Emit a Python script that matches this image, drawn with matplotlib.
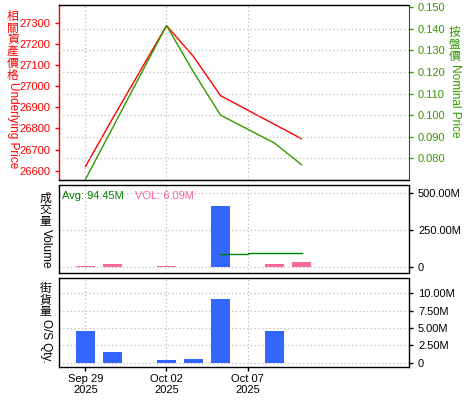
import matplotlib
matplotlib.use('Agg')
import matplotlib.pyplot as plt

plt.rcParams['font.family'] = ['Liberation Sans', 'Noto Sans CJK TC']

# trading-day slots (weekdays), ticks every 3rd slot
slot_idx = [0, 1, 2, 3, 4, 5, 6, 7, 8]
tick_idx = [0, 3, 6]
tick_labels = ['Sep 29\n2025', 'Oct 02\n2025', 'Oct 07\n2025']

# price panel
price_idx = [0, 1, 3, 4, 5, 7, 8]
underlying = [26620, 26846, 27286, 27140, 26955, 26819, 26751]
nominal = [0.0702, 0.094, 0.1415, 0.120, 0.100, 0.087, 0.077]

# volume panel
vol_idx = [0, 1, 3, 5, 7, 8]
volume = [8e6, 20e6, 6e6, 415e6, 20e6, 36e6]
vol_colors = ['#FF6699', '#FF6699', '#FF6699', '#3366FF', '#FF6699', '#FF6699']
avg_idx = [5, 6, 8]
avg_vals = [86.5e6, 94.45e6, 94.45e6]

# outstanding quantity panel
qty_idx = [0, 1, 3, 4, 5, 7]
qty = [4.57e6, 1.59e6, 0.43e6, 0.58e6, 9.19e6, 4.57e6]

W, H = 475, 400
fig = plt.figure(figsize=(W / 100, H / 100), dpi=100)

def px_axes(left, top, right, bottom):
    return fig.add_axes([left / W, 1 - bottom / H, (right - left) / W, (bottom - top) / H])

ax1 = px_axes(59, 4.5, 409, 180)
ax2 = px_axes(59, 185, 409, 273)
ax3 = px_axes(59, 278.3, 409, 366.7)

dot = (0, (1, 1))
grid_kw = dict(color='#bbbbbb', linestyle=(0, (1, 2)), linewidth=0.9)
RED = '#FF0000'
GREEN = '#339900'
fs = 8

for ax in (ax1, ax2, ax3):
    ax.set_xlim(-0.98, 11.98)
    ax.set_xticks(tick_idx)
    for x in tick_idx:
        ax.axvline(x, zorder=0, **grid_kw)
    ax.tick_params(axis='x', length=0, labelbottom=False)
    for s in ax.spines.values():
        s.set_linestyle(dot)
        s.set_linewidth(1)
        s.set_color('black')

# ---- price panel ----
ax1r = ax1.twinx()
ax1.plot(price_idx, underlying, color=RED, linewidth=1, zorder=3)
ax1r.plot(price_idx, nominal, color=GREEN, linewidth=1, zorder=3)
ax1.set_ylim(26556, 27386)
ax1.set_yticks(range(26600, 27301, 100))
ax1r.set_ylim(0.0699, 0.1513)
ax1r.set_yticks([0.08, 0.09, 0.10, 0.11, 0.12, 0.13, 0.14, 0.15])
ax1r.set_yticklabels(['%.3f' % v for v in ax1r.get_yticks()])
for v in [0.08, 0.09, 0.10, 0.11, 0.12, 0.13, 0.14]:
    ax1r.axhline(v, zorder=0, **grid_kw)
ax1.tick_params(axis='y', colors=RED, labelsize=fs, length=3, width=1)
ax1r.tick_params(axis='y', colors=GREEN, labelsize=fs, length=3, width=1)
ax1.spines['left'].set_linestyle('-')
ax1.spines['left'].set_color(RED)
ax1.spines['right'].set_visible(False)
ax1r.spines['left'].set_visible(False)
ax1r.spines['right'].set_color('#226600')
ax1r.spines['right'].set_linestyle(dot)
for s in ('top', 'bottom'):
    ax1r.spines[s].set_linestyle(dot)

# ---- volume panel ----
ax2.bar(vol_idx, volume, width=0.7, color=vol_colors, zorder=2)
ax2.step(avg_idx, avg_vals, where='post', color='#008000', linewidth=1, zorder=3)
ax2.set_ylim(-41e6, 556e6)
ax2.set_yticks([0, 250e6, 500e6])
ax2.set_yticklabels(['0', '250.00M', '500.00M'])
for v in [0, 250e6, 500e6]:
    ax2.axhline(v, zorder=0, **grid_kw)
ax2.yaxis.tick_right()
ax2.tick_params(axis='y', colors='black', labelsize=fs, length=3, width=1)
ax2.spines['right'].set_linestyle('-')
ax2.text(0.008, 0.93, 'Avg: 94.45M', transform=ax2.transAxes, color='#008000',
         fontsize=fs, va='top', ha='left')
ax2.text(0.216, 0.93, 'VOL: 6.09M', transform=ax2.transAxes, color='#FF6699',
         fontsize=fs, va='top', ha='left')

# ---- outstanding qty panel ----
ax3.bar(qty_idx, qty, width=0.7, color='#3366FF', zorder=2)
ax3.set_ylim(-0.58e6, 12.16e6)
ax3.set_yticks([0, 2.5e6, 5e6, 7.5e6, 10e6])
ax3.set_yticklabels(['0', '2.50M', '5.00M', '7.50M', '10.00M'])
for v in [0, 2.5e6, 5e6, 7.5e6, 10e6]:
    ax3.axhline(v, zorder=0, **grid_kw)
ax3.yaxis.tick_right()
ax3.tick_params(axis='y', colors='black', labelsize=fs, length=3, width=1)
ax3.spines['right'].set_linestyle('-')
ax3.spines['bottom'].set_linestyle('-')
ax3.tick_params(axis='x', length=3, width=1, labelbottom=True, labelsize=fs, pad=2)
ax3.set_xticklabels(tick_labels)


# vertical axis titles: upright stacked CJK, then rotated latin part
renderer = fig.canvas.get_renderer()


def vlabel(x, cjk_top, cjk, latin, color, ls):
    t = fig.text(x / W, 1 - cjk_top / H, '\n'.join(cjk), ha='center', va='top',
                 color=color, fontsize=8.5, family='Noto Sans CJK TC',
                 linespacing=ls, multialignment='center')
    bb = t.get_window_extent(renderer)
    fig.text(x / W, (bb.y0 - 1) / H, latin, rotation=270, ha='center', va='top',
             color=color, fontsize=8.5)


vlabel(13, 10, '相關資產價格', 'Underlying Price', RED, 0.87)
vlabel(455, 26, '按盤價', 'Nominal Price', GREEN, 0.9)
vlabel(45.5, 192, '成交量', 'Volume', 'black', 0.84)
vlabel(45.5, 282, '街貨量', 'O/S Qty.', 'black', 0.84)

fig.savefig('out.png', dpi=100)
